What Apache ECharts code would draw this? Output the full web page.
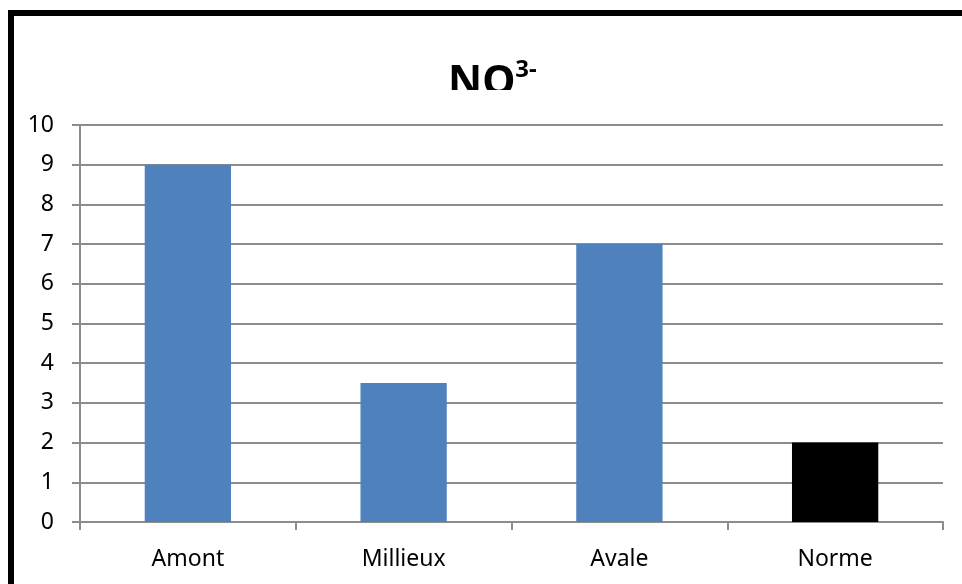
<!DOCTYPE html>
<html>
<head>
<meta charset="utf-8">
<script src="https://cdn.jsdelivr.net/npm/echarts@6/dist/echarts.min.js"></script>
<style>
html,body{margin:0;padding:0;background:#fff;}
#c{width:962px;height:584px;}
</style>
</head>
<body>
<div id="c"></div>
<script>
const categories = ['Amont', 'Millieux', 'Avale', 'Norme'];
const values = [9, 3.5, 7, 2];
const barColors = ['#4f81bd', '#4f81bd', '#4f81bd', '#000000'];
const yTicks = [0, 1, 2, 3, 4, 5, 6, 7, 8, 9, 10];

const chart = echarts.init(document.getElementById('c'));
const FONT = 'Noto Sans';
chart.setOption({
  backgroundColor: '#fff',
  animation: false,
  title: {
    text: '{n|NO}{s|3-}',
    left: 448,
    top: 58,
    padding: 0,
    textStyle: {
      rich: {
        n: { fontFamily: FONT, fontWeight: 'bold', fontSize: 42, color: '#000', lineHeight: 50 },
        s: { fontFamily: FONT, fontWeight: 'bold', fontSize: 24, color: '#000', verticalAlign: 'top', lineHeight: 20 }
      }
    }
  },
  grid: { left: 80, right: 19, top: 125, bottom: 62, containLabel: false },
  xAxis: {
    type: 'category',
    data: categories,
    axisLine: { show: true, lineStyle: { color: '#8c8c8c', width: 2 } },
    axisTick: { show: true, length: 8, alignWithLabel: false, lineStyle: { color: '#8c8c8c', width: 2 } },
    axisLabel: { color: '#000', fontFamily: FONT, fontSize: 23, margin: 26 }
  },
  yAxis: {
    type: 'value',
    min: yTicks[0],
    max: yTicks[yTicks.length - 1],
    interval: 1,
    axisLine: { show: true, lineStyle: { color: '#8c8c8c', width: 2 } },
    axisTick: { show: true, length: 8, lineStyle: { color: '#8c8c8c', width: 2 } },
    axisLabel: { color: '#000', fontFamily: FONT, fontSize: 23, margin: 26 },
    splitLine: { show: true, lineStyle: { color: '#8c8c8c', width: 2 } }
  },
  series: [{
    type: 'bar',
    data: values.map((v, i) => ({ value: v, itemStyle: { color: barColors[i] } })),
    barCategoryGap: '60%'
  }],
  graphic: [
    { type: 'rect', z: 100, shape: { x: 420, y: 90, width: 160, height: 30 }, style: { fill: '#fff' } },
    { type: 'rect', z: 100, shape: { x: 8, y: 10, width: 6, height: 580 }, style: { fill: '#000' } },
    { type: 'rect', z: 100, shape: { x: 8, y: 10, width: 960, height: 6 }, style: { fill: '#000' } }
  ]
});
</script>
</body>
</html>
